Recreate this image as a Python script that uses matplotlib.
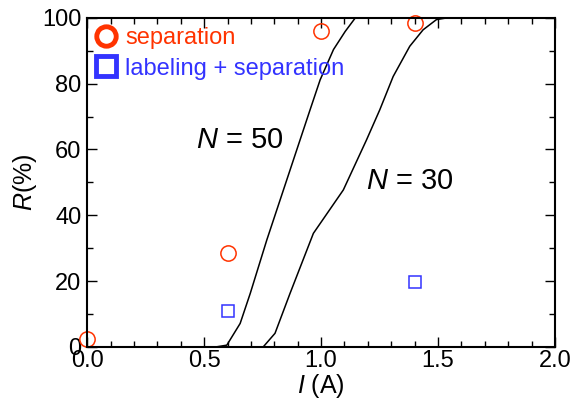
import matplotlib
matplotlib.use("Agg")
import matplotlib.pyplot as plt
from matplotlib.lines import Line2D
from matplotlib.ticker import MultipleLocator

plt.rcParams["font.family"] = ["Liberation Sans", "DejaVu Sans"]
plt.rcParams["mathtext.fontset"] = "custom"
plt.rcParams["mathtext.it"] = "Liberation Sans:italic"
plt.rcParams["mathtext.rm"] = "Liberation Sans"

# simulated curves, R(%) vs I(A)
n50_i = [0.0, 0.554, 0.597, 0.654, 0.697, 0.768, 0.825, 0.896, 0.953, 0.996, 1.053, 1.103, 1.146, 2.0]
n50_r = [0.0, 0.0, 0.5, 7.1, 16.2, 32.5, 44.7, 59.9, 72.1, 81.2, 90.4, 95.9, 100.0, 100.0]
n30_i = [0.753, 0.803, 0.867, 0.967, 1.095, 1.194, 1.251, 1.308, 1.379, 1.436, 1.493, 1.536, 2.0]
n30_r = [0.0, 4.1, 16.2, 34.5, 47.7, 62.9, 72.1, 82.2, 91.4, 96.4, 99.5, 100.0, 100.0]

# measurements
sep_i = [0.0, 0.6, 1.0, 1.4]
sep_r = [2.5, 28.6, 96.0, 98.6]
lab_i = [0.6, 1.4]
lab_r = [11.0, 19.8]

red = "#ff3300"
blue = "#3333ff"

fig = plt.figure(figsize=(5.77, 4.08), dpi=100)
ax = fig.add_axes([0.151, 0.150, 0.811, 0.806])

ax.plot(n50_i, n50_r, color="black", lw=1.1)
ax.plot(n30_i, n30_r, color="black", lw=1.1)
ax.plot(sep_i, sep_r, ls="none", marker="o", ms=11, mfc="none", mec=red, mew=1.1, clip_on=False)
ax.plot(lab_i, lab_r, ls="none", marker="s", ms=8, mfc="none", mec=blue, mew=1.1, clip_on=False)

ax.text(0.654, 63, "$N$ = 50", fontsize=21, ha="center", va="center")
ax.text(1.38, 50.5, "$N$ = 30", fontsize=21, ha="center", va="center")

handles = [
    Line2D([], [], ls="none", marker="o", ms=14, mfc="none", mec=red, mew=3.5),
    Line2D([], [], ls="none", marker="s", ms=14, mfc="none", mec=blue, mew=3.5),
]
ax.legend(handles, ["separation", "labeling + separation"], labelcolor=[red, blue],
          loc="upper left", frameon=False, fontsize=17, handlelength=0.8,
          handletextpad=0.4, borderaxespad=0.1, labelspacing=0.35, borderpad=0.3)

ax.set_xlim(0, 2.0)
ax.set_ylim(0, 100)
ax.xaxis.set_minor_locator(MultipleLocator(0.1))
ax.yaxis.set_major_locator(MultipleLocator(20))
ax.yaxis.set_minor_locator(MultipleLocator(10))
ax.set_xticks([0, 0.5, 1.0, 1.5, 2.0])
ax.set_xticklabels(["0.0", "0.5", "1.0", "1.5", "2.0"])
ax.tick_params(which="both", direction="in", top=True, right=True, labelsize=17, width=1)
ax.tick_params(which="major", length=7, pad=2)
ax.tick_params(axis="y", which="major", pad=4)
ax.tick_params(which="minor", length=4)
for s in ax.spines.values():
    s.set_linewidth(1.5)

ax.set_xlabel("$I$ (A)", fontsize=18, labelpad=0)
ax.set_ylabel("$R$(%)", fontsize=18, labelpad=2)

fig.savefig("out.png", dpi=100)
